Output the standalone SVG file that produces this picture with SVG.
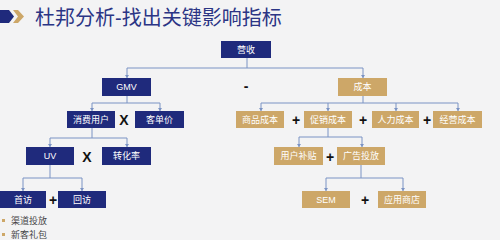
<svg xmlns="http://www.w3.org/2000/svg" width="500" height="240" viewBox="0 0 500 240">
<defs>
<style>
.b{fill:#1f2a7c}
.g{fill:#cda768}
.t{fill:#ffffff;font-family:"Liberation Sans","Noto Sans CJK SC",sans-serif;font-size:9px;text-anchor:middle;dominant-baseline:central}
.op{fill:#111;font-family:"Liberation Sans","Noto Sans CJK SC",sans-serif;font-size:14px;font-weight:bold;text-anchor:middle;dominant-baseline:central}
.ln{fill:none;stroke:#7b93c4;stroke-width:1}
.ah{fill:#7b93c4}
.bl{fill:#444;font-family:"Liberation Sans","Noto Sans CJK SC",sans-serif;font-size:9px;dominant-baseline:central}
</style>
</defs>
<rect width="500" height="240" fill="#f3f3f4"/>
<g id="title">
<polygon points="0,10 9,10 14,16.5 9,23 0,23" fill="#1f2a7c"/>
<polygon points="13,10 18,10 24,16.5 18,23 13,23 18,16.5" fill="#cda768"/>
<text x="35" y="18" style="fill:#2b3585;font-family:'Liberation Sans','Noto Sans CJK SC',sans-serif;font-size:20px;dominant-baseline:central">杜邦分析-找出关键影响指标</text>
</g>
<g id="connectors">
<path class="ln" d="M247,58 V68 M127,68 H363 M127,68 V78 M363,68 V78"/>
<path class="ln" d="M127,96 V103 M92,103 H160 M92,103 V111 M160,103 V111"/>
<path class="ln" d="M363,96 V103 M261,103 H458 M261,103 V111 M328,103 V111 M396,103 V111 M458,103 V111"/>
<path class="ln" d="M92,128 V138 M50,138 H127 M50,138 V147 M127,138 V147"/>
<path class="ln" d="M50,165 V178 M23,178 H82 M23,178 V191 M82,178 V191"/>
<path class="ln" d="M328,128 V137 M299,137 H362 M299,137 V147 M362,137 V147"/>
<path class="ln" d="M361,165 V178 M326,178 H403 M326,178 V191 M403,178 V191"/>
<g class="ah">
<path d="M125,75 h4 l-2,3z M361,75 h4 l-2,3z"/>
<path d="M90,108 h4 l-2,3z M158,108 h4 l-2,3z"/>
<path d="M259,108 h4 l-2,3z M326,108 h4 l-2,3z M394,108 h4 l-2,3z M456,108 h4 l-2,3z"/>
<path d="M48,144 h4 l-2,3z M125,144 h4 l-2,3z"/>
<path d="M21,188 h4 l-2,3z M80,188 h4 l-2,3z"/>
<path d="M297,144 h4 l-2,3z M360,144 h4 l-2,3z"/>
<path d="M324,188 h4 l-2,3z M401,188 h4 l-2,3z"/>
</g>
</g>
<g id="n-yingshou"><rect class="b" x="221" y="41" width="50" height="17"/><text class="t" x="246" y="49.5">营收</text></g>
<g id="n-gmv"><rect class="b" x="102" y="78" width="49" height="18"/><text class="t" x="126.5" y="87">GMV</text></g>
<g id="n-chengben"><rect class="g" x="338" y="78" width="49" height="18"/><text class="t" x="362.5" y="87">成本</text></g>
<g id="n-xiaofei"><rect class="b" x="67" y="111" width="48" height="17"/><text class="t" x="91" y="119.5">消费用户</text></g>
<g id="n-kedan"><rect class="b" x="135" y="111" width="49" height="17"/><text class="t" x="159.5" y="119.5">客单价</text></g>
<g id="n-shangpin"><rect class="g" x="236" y="111" width="48" height="17"/><text class="t" x="260" y="119.5">商品成本</text></g>
<g id="n-cuxiao"><rect class="g" x="304" y="111" width="48" height="17"/><text class="t" x="328" y="119.5">促销成本</text></g>
<g id="n-renli"><rect class="g" x="372" y="111" width="47" height="17"/><text class="t" x="395.5" y="119.5">人力成本</text></g>
<g id="n-jingying"><rect class="g" x="433" y="111" width="49" height="17"/><text class="t" x="457.5" y="119.5">经营成本</text></g>
<g id="n-uv"><rect class="b" x="26" y="147" width="48" height="18"/><text class="t" x="50" y="156">UV</text></g>
<g id="n-zhuanhua"><rect class="b" x="102" y="147" width="49" height="18"/><text class="t" x="126.5" y="156">转化率</text></g>
<g id="n-yonghubutie"><rect class="g" x="274" y="147" width="49" height="18"/><text class="t" x="298.5" y="156">用户补贴</text></g>
<g id="n-guanggao"><rect class="g" x="337" y="147" width="48" height="18"/><text class="t" x="361" y="156">广告投放</text></g>
<g id="n-shoufang"><rect class="b" x="0" y="191" width="46" height="17"/><text class="t" x="23" y="199.5">首访</text></g>
<g id="n-huifang"><rect class="b" x="58" y="191" width="48" height="17"/><text class="t" x="82" y="199.5">回访</text></g>
<g id="n-sem"><rect class="g" x="302" y="191" width="48" height="17"/><text class="t" x="326" y="199.5">SEM</text></g>
<g id="n-yingyong"><rect class="g" x="378" y="191" width="48" height="17"/><text class="t" x="402" y="199.5">应用商店</text></g>
<g id="ops">
<text class="op" x="246" y="86">-</text>
<text class="op" x="124" y="120">X</text>
<text class="op" x="296" y="120">+</text>
<text class="op" x="363" y="120">+</text>
<text class="op" x="427" y="120">+</text>
<text class="op" x="87" y="157">X</text>
<text class="op" x="330" y="157">+</text>
<text class="op" x="53" y="200">+</text>
<text class="op" x="365" y="200">+</text>
</g>
<g id="bullets">
<rect x="2" y="219" width="3" height="3" fill="#cda768"/>
<text class="bl" x="11" y="220.5">渠道投放</text>
<rect x="2" y="233" width="3" height="3" fill="#cda768"/>
<text class="bl" x="11" y="234.5">新客礼包</text>
</g>
</svg>
